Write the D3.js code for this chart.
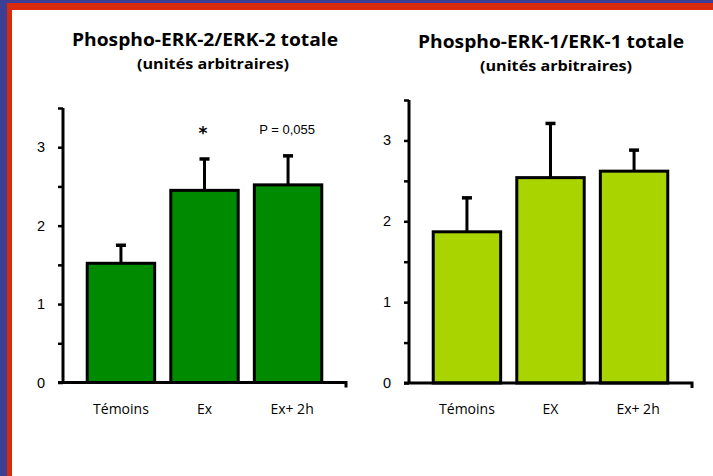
<!DOCTYPE html>
<html>
<head>
<meta charset="utf-8">
<script src="https://cdn.jsdelivr.net/npm/d3@7"></script>
<style>
  html, body { margin: 0; padding: 0; background: #fff; }
  svg { display: block; }
</style>
</head>
<body>
<svg id="chart" width="713" height="476"></svg>
<script>
// ---- data ----
const categories1 = ["Témoins", "Ex", "Ex+ 2h"];
const values1 = [1.52, 2.45, 2.52];
const errors1 = [0.23, 0.40, 0.37];
const annotations1 = ["", "*", "P = 0,055"];
const title1 = "Phospho-ERK-2/ERK-2 totale";

const categories2 = ["Témoins", "EX", "Ex+ 2h"];
const values2 = [1.87, 2.54, 2.62];
const errors2 = [0.42, 0.67, 0.26];
const title2 = "Phospho-ERK-1/ERK-1 totale";

const subtitle = "(unités arbitraires)";
const yMax = 3.5;
const yMajorTicks = [0, 1, 2, 3];
const yMinorTicks = [0, 0.5, 1, 1.5, 2, 2.5, 3, 3.5];

const svg = d3.select("#chart");
const fontTitle = '"Comic Sans MS", "Open Sans", sans-serif';
const fontText = '"Comic Sans MS", "Open Sans", sans-serif';
const fontNum = '"Liberation Sans", Arial, sans-serif';

// slide frame
svg.append("rect").attr("x", 0).attr("y", 0).attr("width", 713).attr("height", 476).attr("fill", "#3d3f95");
svg.append("rect").attr("x", 7).attr("y", 3).attr("width", 706).attr("height", 473).attr("fill", "#d92a0c");
svg.append("rect").attr("x", 12).attr("y", 10).attr("width", 701).attr("height", 466).attr("fill", "#ffffff");

function drawChart(opt) {
  const g = svg.append("g");
  const x = d3.scaleBand().domain(opt.categories).range([opt.x0, opt.x1])
    .paddingInner(0.193).paddingOuter(0.29);
  const y = d3.scaleLinear().domain([0, yMax]).range([opt.yBase, opt.yTop]);

  // titles
  g.append("text").attr("x", opt.titleX).attr("y", opt.titleY)
    .attr("text-anchor", "middle").attr("font-family", fontTitle)
    .attr("font-weight", "bold").attr("font-size", 17.5).attr("fill", "#000")
    .attr("textLength", 266).attr("lengthAdjust", "spacingAndGlyphs")
    .text(opt.title);
  g.append("text").attr("x", opt.subX).attr("y", opt.subY)
    .attr("text-anchor", "middle").attr("font-family", fontTitle)
    .attr("font-weight", "bold").attr("font-size", 14).attr("fill", "#000")
    .attr("textLength", 152).attr("lengthAdjust", "spacingAndGlyphs")
    .text(subtitle);

  const data = opt.categories.map((c, i) => ({c, v: opt.values[i], e: opt.errors[i], a: opt.annotations ? opt.annotations[i] : ""}));

  // error bars (behind bars)
  g.selectAll(".err").data(data).enter().append("line")
    .attr("x1", d => x(d.c) + x.bandwidth() / 2).attr("x2", d => x(d.c) + x.bandwidth() / 2)
    .attr("y1", d => y(d.v)).attr("y2", d => y(d.v + d.e))
    .attr("stroke", "#000").attr("stroke-width", 3);
  g.selectAll(".cap").data(data).enter().append("line")
    .attr("x1", d => x(d.c) + x.bandwidth() / 2 - 5).attr("x2", d => x(d.c) + x.bandwidth() / 2 + 5)
    .attr("y1", d => y(d.v + d.e)).attr("y2", d => y(d.v + d.e))
    .attr("stroke", "#000").attr("stroke-width", 3.5);

  // bars
  g.selectAll(".bar").data(data).enter().append("rect")
    .attr("x", d => x(d.c)).attr("width", x.bandwidth())
    .attr("y", d => y(d.v)).attr("height", d => y(0) - y(d.v))
    .attr("fill", opt.color).attr("stroke", "#000").attr("stroke-width", 3);

  // annotations
  data.forEach(d => {
    if (!d.a) return;
    const isStar = d.a === "*";
    g.append("text")
      .attr("x", x(d.c) + x.bandwidth() / 2 + (isStar ? -1.5 : -1))
      .attr("y", isStar ? 139 : 134)
      .attr("text-anchor", "middle")
      .attr("font-family", isStar ? "DejaVu Sans, sans-serif" : fontNum)
      .attr("font-weight", isStar ? "bold" : "normal")
      .attr("font-size", isStar ? 17 : 13)
      .attr("fill", "#000")
      .text(d.a);
  });

  // y axis
  const yAxis = d3.axisLeft(y).tickValues(yMinorTicks).tickSize(5).tickFormat("");
  const ya = g.append("g").attr("transform", `translate(${opt.x0},0)`).call(yAxis);
  ya.select(".domain").attr("stroke", "#000").attr("stroke-width", 3)
    .attr("d", `M0,${opt.yBase}V${opt.yTop}`);
  ya.selectAll(".tick line").attr("stroke", "#000").attr("stroke-width", 2.5);

  g.selectAll(".ylab").data(yMajorTicks).enter().append("text")
    .attr("x", opt.x0 - 18).attr("y", d => y(d) + 5)
    .attr("text-anchor", "end").attr("font-family", fontNum)
    .attr("font-size", 14.5).attr("fill", "#000").text(d => d);

  // x axis
  const xAxis = d3.axisBottom(x).tickSize(0).tickFormat("");
  const xa = g.append("g").attr("transform", `translate(0,${opt.yBase})`).call(xAxis);
  xa.select(".domain").attr("stroke", "#000").attr("stroke-width", 3)
    .attr("d", `M${opt.x0 - 5},0H${opt.x1}V5`);

  g.selectAll(".xlab").data(data).enter().append("text")
    .attr("x", (d, i) => x(d.c) + x.bandwidth() / 2 + (i === 2 ? 4 : 0))
    .attr("y", 414)
    .attr("text-anchor", "middle").attr("font-family", fontText)
    .attr("font-size", 14).attr("fill", "#000").text(d => d.c);
}

drawChart({
  categories: categories1, values: values1, errors: errors1, annotations: annotations1,
  title: title1, color: "#008a00",
  x0: 63, x1: 346, yBase: 382.5, yTop: 108,
  titleX: 205, titleY: 46, subX: 213, subY: 69
});
drawChart({
  categories: categories2, values: values2, errors: errors2, annotations: null,
  title: title2, color: "#aad400",
  x0: 409, x1: 692, yBase: 383, yTop: 100,
  titleX: 551, titleY: 48, subX: 556, subY: 71
});
</script>
</body>
</html>
